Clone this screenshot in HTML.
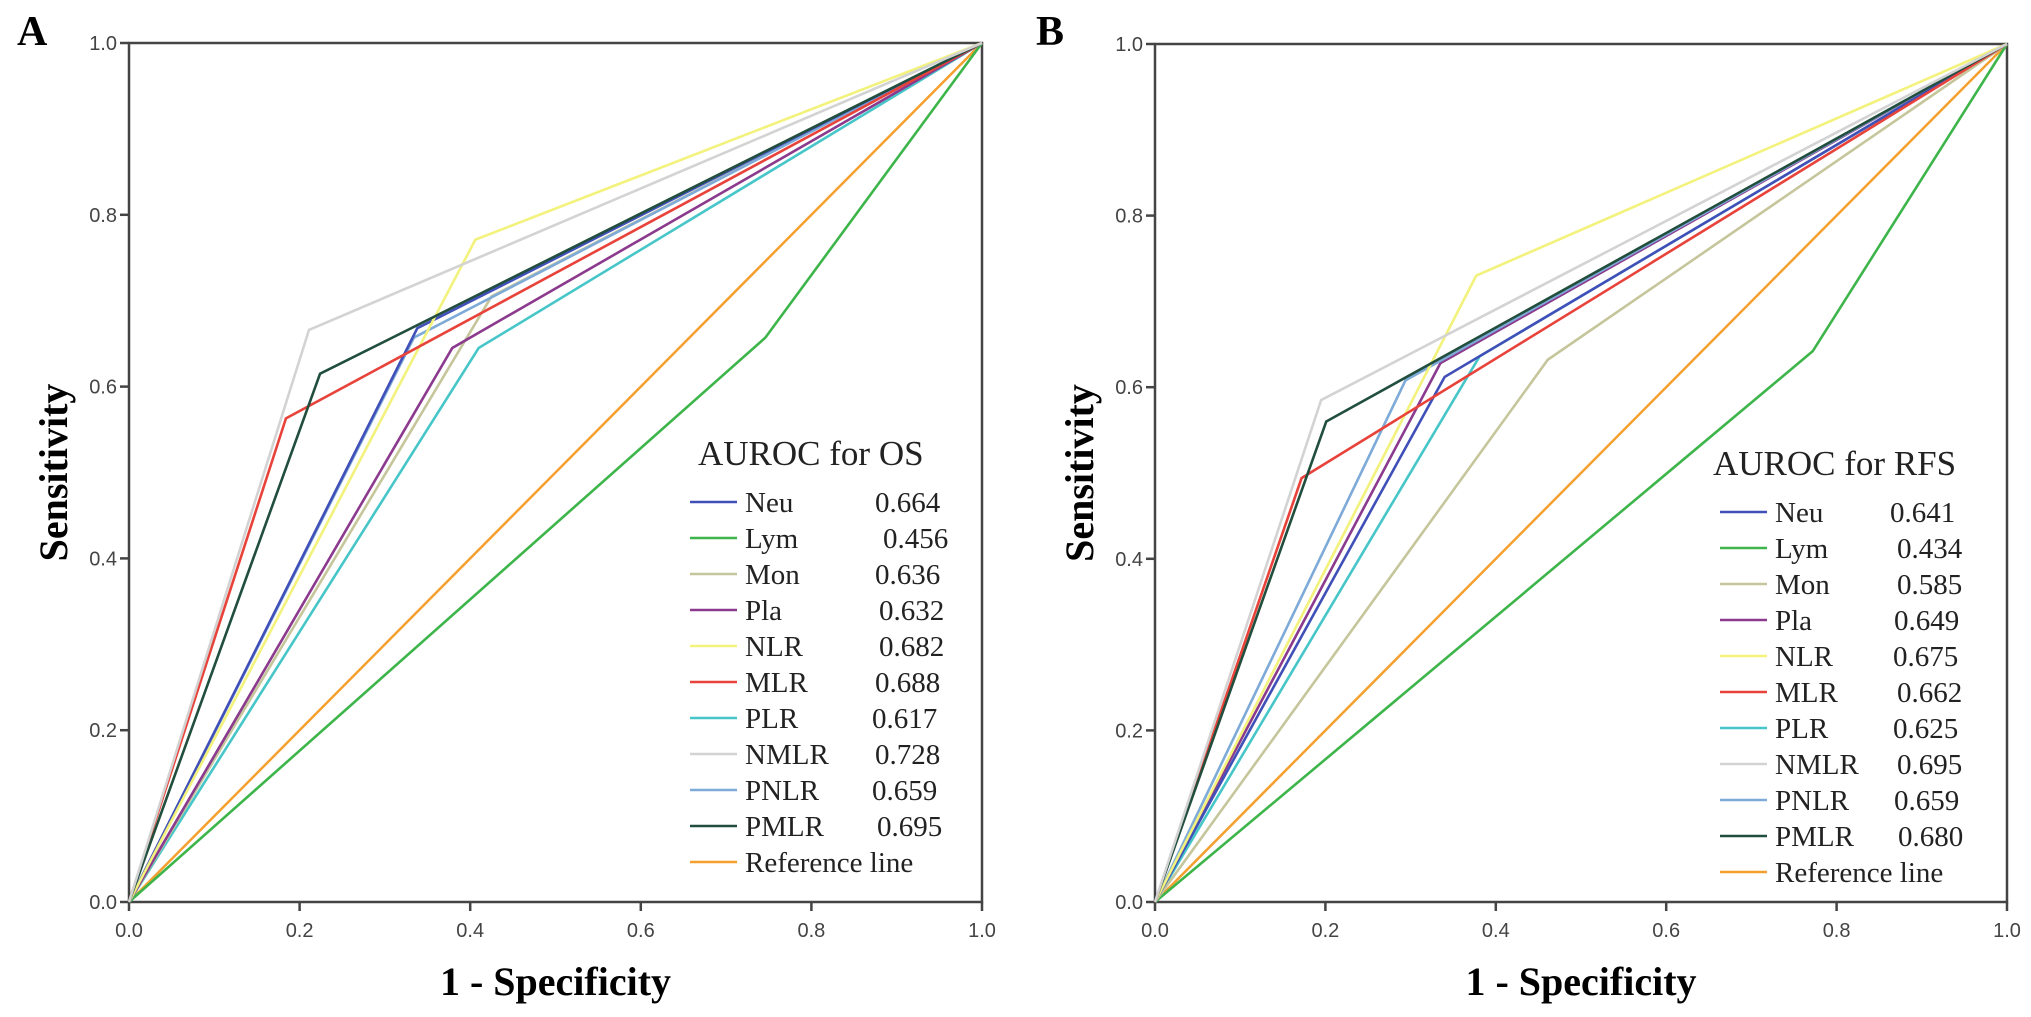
<!DOCTYPE html>
<html><head><meta charset="utf-8"><style>
html,body{margin:0;padding:0;background:#fff;}
svg{display:block;}
</style></head><body>
<svg id="chart" width="2031" height="1017" xmlns="http://www.w3.org/2000/svg"></svg>
<script>
const series = ["Neu","Lym","Mon","Pla","NLR","MLR","PLR","NMLR","PNLR","PMLR"];
const colors = ["#4050b8","#3db54a","#c6c69c","#8b3a8e","#f2f27c","#e8433b","#46c6c8","#d3d3d3","#7eaad8","#214e3d"];
const aurocA = ["0.664","0.456","0.636","0.632","0.682","0.688","0.617","0.728","0.659","0.695"];
const aurocB = ["0.641","0.434","0.585","0.649","0.675","0.662","0.625","0.695","0.659","0.680"];
const kinkXA = [0.338,0.746,0.425,0.379,0.406,0.184,0.410,0.211,0.334,0.224];
const kinkYA = [0.668,0.657,0.705,0.645,0.771,0.563,0.645,0.666,0.657,0.615];
const kinkXB = [0.340,0.772,0.461,0.335,0.377,0.172,0.381,0.195,0.294,0.201];
const kinkYB = [0.612,0.642,0.632,0.628,0.730,0.494,0.636,0.585,0.608,0.560];
const ticks = [0,0.2,0.4,0.6,0.8,1.0];
const tickLabels = ["0.0","0.2","0.4","0.6","0.8","1.0"];

const NS="http://www.w3.org/2000/svg";
const svg=document.getElementById('chart');
function mk(tag,attrs,parent){const e=document.createElementNS(NS,tag);for(const k in attrs)e.setAttribute(k,attrs[k]);(parent||svg).appendChild(e);return e;}

function panel(p){
  const g=mk('g',{});
  
  
  const sx=v=>p.x0+v*(p.x1-p.x0);
  const sy=v=>p.y0-v*(p.y0-p.y1);
  const L=mk('text',{x:p.letterX,y:45,'font-family':'Liberation Serif, serif','font-weight':'bold','font-size':42,fill:'#000'},g);
  L.textContent=p.id;
  
  
  const fr=mk('rect',{x:p.x0,y:p.y1,width:p.x1-p.x0,height:p.y0-p.y1,fill:'none',stroke:'#444','stroke-width':2.5},g);
  
  
  ticks.forEach((t,i)=>{
    mk('line',{x1:p.x0-9,x2:p.x0,y1:sy(t),y2:sy(t),stroke:'#444','stroke-width':2.5},g);
    const yl=mk('text',{x:p.x0-12,y:sy(t)+7,'text-anchor':'end','font-family':'Liberation Sans, sans-serif','font-size':20,fill:'#444'},g);
    yl.textContent=tickLabels[i];
    
    
    mk('line',{x1:sx(t),x2:sx(t),y1:p.y0,y2:p.y0+9,stroke:'#444','stroke-width':2.5},g);
    const xl=mk('text',{x:sx(t),y:p.y0+35,'text-anchor':'middle','font-family':'Liberation Sans, sans-serif','font-size':20,fill:'#444'},g);
    xl.textContent=tickLabels[i];
    
    
  });
  const xt=mk('text',{x:(p.x0+p.x1)/2,y:995,'text-anchor':'middle','font-family':'Liberation Serif, serif','font-weight':'bold','font-size':40,fill:'#000'},g);
  xt.textContent='1 - Specificity';
  
  
  const cy=(p.y0+p.y1)/2;
  const yt=mk('text',{x:p.x0-62,y:cy,'text-anchor':'middle','font-family':'Liberation Serif, serif','font-weight':'bold','font-size':40,fill:'#000',transform:'rotate(-90 '+(p.x0-62)+' '+cy+')'},g);
  yt.textContent='Sensitivity';
  
  
  const ref=mk('line',{x1:sx(0),y1:sy(0),x2:sx(1),y2:sy(1),stroke:'#f5a02e','stroke-width':2.5},g);
  
  
  const order=[1,6,2,3,8,0,4,5,9,7];
  order.forEach(i=>{
    const pts=[[0,0],[p.kx[i],p.ky[i]],[1,1]].map(q=>sx(q[0])+','+sy(q[1])).join(' ');
    const pl=mk('polyline',{points:pts,fill:'none',stroke:colors[i],'stroke-width':2.6,'stroke-linejoin':'miter'},g);
    
    
  });
  const lg=mk('g',{},g);
  
  
  const tt=mk('text',{x:p.titleX,y:p.legTitleY,'font-family':'Liberation Serif, serif','font-size':35,fill:'#222'},lg);
  tt.textContent=p.title;
  
  
  const names=series.concat(['Reference line']);
  const cols=colors.concat(['#f5a02e']);
  names.forEach((n,i)=>{
    const y=p.legY0+i*36;
    const e=mk('g',{},lg);
    
    
    mk('line',{x1:p.legX,x2:p.legX+47,y1:y,y2:y,stroke:cols[i],'stroke-width':2.6},e);
    const t=mk('text',{x:p.legX+55,y:y+10,'font-family':'Liberation Serif, serif','font-size':29,fill:'#222'},e);
    t.textContent=n;
    if(i<10){
      const v=mk('text',{x:p.valX+p.valOff[i],y:y+10,'font-family':'Liberation Serif, serif','font-size':29,fill:'#222'},e);
      v.textContent=p.vals[i];
    }
  });
}

panel({id:'A',x0:129,x1:982,y0:902,y1:43,letterX:17,kx:kinkXA,ky:kinkYA,title:'AUROC for OS',
  titleX:698,legX:690,legTitleY:465,legY0:502,valX:875,valOff:[0,8,0,4,4,0,-3,0,-3,2],vals:aurocA});
panel({id:'B',x0:1155,x1:2007,y0:902,y1:44,letterX:1036,kx:kinkXB,ky:kinkYB,title:'AUROC for RFS',
  titleX:1713,legX:1720,legTitleY:475,legY0:512,valX:1890,valOff:[0,7,7,4,3,7,3,7,4,8],vals:aurocB});
</script>
</body></html>
